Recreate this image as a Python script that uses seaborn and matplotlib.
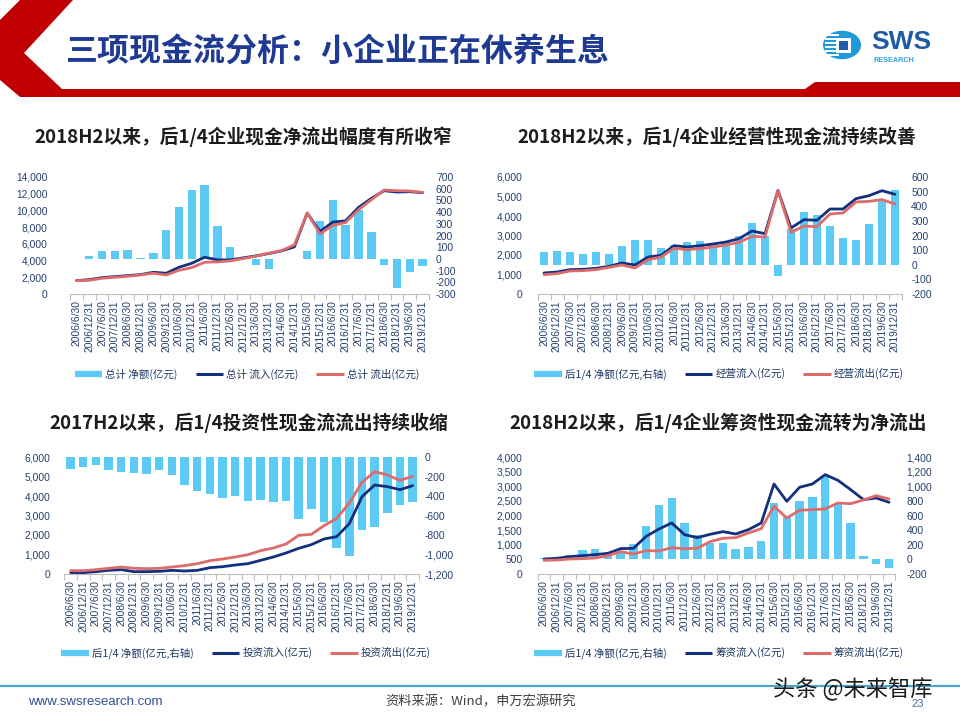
import numpy as np
import matplotlib
matplotlib.use("Agg")
import matplotlib.pyplot as plt
import seaborn as sns
from matplotlib.patches import Polygon, Circle, Rectangle
from matplotlib.lines import Line2D
from matplotlib.ticker import FuncFormatter, FixedLocator

sns.set_style("white")
plt.rcParams['font.family'] = ['Noto Sans CJK SC', 'DejaVu Sans']
plt.rcParams['axes.unicode_minus'] = False

# ---------------- data ----------------
dates = []
for yr in range(2006, 2020):
    dates += [f"{yr}/6/30", f"{yr}/12/31"]

# chart 1: total
total_net = [2, 28, 71, 71, 77, 11, 54, 251, 446, 586, 634, 283, 100, 0,
             -49, -89, -2, 2, 71, 320, 500, 286, 420, 234, -49, -246, -109, -57]
total_in = [1600, 1720, 1960, 2080, 2200, 2320, 2600, 2480, 3200, 3680, 4400, 4080, 4080, 4320,
            4560, 4840, 5160, 5640, 9680, 7480, 8600, 8760, 10360, 11440, 12360, 12200, 12240, 12120]
total_out = [1600, 1640, 1880, 2000, 2120, 2280, 2480, 2280, 2840, 3160, 3800, 3840, 3960, 4240,
             4520, 4880, 5200, 5880, 9680, 7200, 8200, 8560, 10080, 11280, 12440, 12360, 12320, 12160]

# chart 2: operating
op_net = [84, 93, 89, 75, 84, 75, 130, 166, 171, 116, 135, 157, 164, 150,
          160, 198, 285, 194, -80, 245, 358, 340, 262, 185, 166, 276, 440, 512]
op_in = [1077, 1128, 1248, 1265, 1316, 1419, 1590, 1487, 1897, 1983, 2479, 2410, 2479, 2564,
         2667, 2838, 3231, 3094, 5316, 3385, 3812, 3778, 4359, 4359, 4889, 5043, 5299, 5111]
op_out = [991, 1043, 1180, 1197, 1248, 1368, 1487, 1333, 1761, 1897, 2342, 2274, 2325, 2410,
          2513, 2650, 2957, 2923, 5316, 3162, 3487, 3453, 4103, 4154, 4718, 4752, 4838, 4615]

# chart 3: investing
inv_net = [-123, -103, -85, -130, -150, -168, -178, -137, -188, -287, -352, -383, -420, -400,
           -455, -444, -465, -455, -632, -530, -670, -933, -1012, -745, -721, -574, -496, -458]
inv_in = [68, 68, 120, 188, 222, 120, 120, 137, 188, 154, 188, 325, 376, 462,
          530, 701, 872, 1077, 1316, 1504, 1795, 1915, 2581, 3966, 4564, 4479, 4325, 4530]
inv_out = [171, 171, 222, 291, 359, 291, 274, 291, 359, 427, 530, 684, 769, 872,
           991, 1197, 1333, 1538, 1983, 2034, 2479, 2855, 3641, 4701, 5248, 5077, 4803, 5009]

# chart 4: financing
fin_net = [14, 32, 64, 123, 141, 58, 100, 210, 456, 748, 843, 501, 337, 223,
           228, 141, 169, 251, 775, 574, 793, 857, 1135, 766, 497, 41, -59, -114]
fin_in = [513, 536, 593, 627, 661, 707, 866, 878, 1288, 1539, 1744, 1345, 1243, 1357,
          1448, 1368, 1516, 1744, 3077, 2485, 2964, 3077, 3397, 3203, 2884, 2542, 2599, 2451]
fin_out = [467, 479, 513, 524, 547, 627, 764, 684, 798, 787, 901, 866, 878, 1106,
           1220, 1243, 1402, 1550, 2314, 1915, 2177, 2200, 2223, 2428, 2405, 2531, 2679, 2565]

titles = ["2018H2以来，后1/4企业现金净流出幅度有所收窄",
          "2018H2以来，后1/4企业经营性现金流持续改善",
          "2017H2以来，后1/4投资性现金流流出持续收缩",
          "2018H2以来，后1/4企业筹资性现金流转为净流出"]
legend_labels = [["总计 净额(亿元)", "总计 流入(亿元)", "总计 流出(亿元)"],
                 ["后1/4 净额(亿元,右轴)", "经营流入(亿元)", "经营流出(亿元)"],
                 ["后1/4 净额(亿元,右轴)", "投资流入(亿元)", "投资流出(亿元)"],
                 ["后1/4 净额(亿元,右轴)", "筹资流入(亿元)", "筹资流出(亿元)"]]

# ---------------- styles ----------------
W, H = 960, 720
BAR = "#5BCBF5"
NAVY = "#13307E"
RED = "#DE6B6B"
TICK = "#25406F"
TXT = "#1F3864"
NUMFONT = ["Liberation Sans", "DejaVu Sans"]

fig = plt.figure(figsize=(W / 100, H / 100), dpi=100)
fig.patch.set_facecolor("white")


def fx(x):
    return x / W


def fy(y):
    return 1 - y / H


def rect(x0, x1, yt, yb):
    return [fx(x0), fy(yb), (x1 - x0) / W, (yb - yt) / H]


# ---------------- header ----------------
red = "#C00000"
chev = [(20, 0), (73, 0), (24, 53), (62, 89), (805, 89), (815, 82), (960, 82),
        (960, 97), (20, 97), (0, 80), (0, 20)]
fig.patches.append(Polygon([(fx(a), fy(b)) for a, b in chev], closed=True,
                           transform=fig.transFigure, facecolor=red, edgecolor="none"))
fig.text(fx(66), fy(53), "三项现金流分析：小企业正在休养生息", ha="left", va="center",
         fontsize=23, fontweight="bold", color="#1F3A93")

# logo
cx, cy, r = 842, 45, 19
fig.patches.append(Circle((fx(cx), fy(cy)), r / W, transform=fig.transFigure,
                          facecolor="#1C9BD8", edgecolor="none"))
for yy in range(34, 58, 4):
    fig.patches.append(Rectangle((fx(825), fy(yy + 1.5)), 14 / W, 1.5 / H,
                                 transform=fig.transFigure, facecolor="white", edgecolor="none"))
fig.patches.append(Rectangle((fx(836), fy(53)), 15 / W, 15 / H, transform=fig.transFigure,
                             facecolor="white", edgecolor="none"))
fig.patches.append(Rectangle((fx(839), fy(50)), 9 / W, 9 / H, transform=fig.transFigure,
                             facecolor="#1E5DAA", edgecolor="none"))
fig.text(fx(871), fy(42), "SWS", ha="left", va="center", fontsize=19, fontweight="bold",
         color="#1F5AA6", family=["Liberation Sans", "DejaVu Sans"])
fig.text(fx(873), fy(61), "RESEARCH", ha="left", va="center", fontsize=5.2, fontweight="bold",
         color="#2AA3DE", family=["Liberation Sans", "DejaVu Sans"])

# ---------------- charts ----------------
charts = [
    dict(net=total_net, inn=total_in, out=total_out, box=(70, 429, 177, 294),
         lt=np.arange(0, 14001, 2000), rt=np.arange(-300, 701, 100),
         title_xy=(243, 137), leg_xy=(247, 374), lpad=16, rpad=5),
    dict(net=op_net, inn=op_in, out=op_out, box=(537.5, 901.5, 177, 294),
         lt=np.arange(0, 6001, 1000), rt=np.arange(-200, 601, 100),
         title_xy=(717, 137), leg_xy=(719, 374), lpad=11, rpad=7),
    dict(net=inv_net, inn=inv_in, out=inv_out, box=(64.3, 419, 457, 574),
         lt=np.arange(0, 6001, 1000), rt=np.arange(-1200, 1, 200),
         title_xy=(249, 423), leg_xy=(246, 653), lpad=10, rpad=4),
    dict(net=fin_net, inn=fin_in, out=fin_out, box=(537.6, 895.4, 457, 574),
         lt=np.arange(0, 4001, 500), rt=np.arange(-200, 1401, 200),
         title_xy=(718, 423), leg_xy=(719, 653), lpad=11, rpad=8),
]

fmt = FuncFormatter(lambda v, p: f"{int(round(v)):,}")
xs = np.arange(len(dates))

for i, c in enumerate(charts):
    axL = fig.add_axes(rect(*c["box"]))
    axR = axL.twinx()
    sns.barplot(x=xs, y=c["net"], ax=axR, native_scale=True, color=BAR, width=0.66,
                saturation=1, linewidth=0, edgecolor="none")
    sns.lineplot(x=xs, y=c["inn"], ax=axL, color=NAVY, linewidth=2.0, sort=False)
    sns.lineplot(x=xs, y=c["out"], ax=axL, color=RED, linewidth=2.0, sort=False)
    axL.set_zorder(2)
    axR.set_zorder(1)
    axL.patch.set_visible(False)

    axL.set_xlim(-0.5, len(dates) - 0.5)
    axL.set_ylim(c["lt"][0], c["lt"][-1])
    axR.set_ylim(c["rt"][0], c["rt"][-1])
    axL.yaxis.set_major_locator(FixedLocator(c["lt"]))
    axR.yaxis.set_major_locator(FixedLocator(c["rt"]))
    axL.yaxis.set_major_formatter(fmt)
    axR.yaxis.set_major_formatter(fmt)

    axL.set_xticks(xs)
    axL.set_xticklabels(dates, rotation=90, fontsize=7.4, color=TICK, family=NUMFONT)
    axL.set_xticks(np.arange(-0.5, len(dates), 1), minor=True)
    axL.tick_params(axis="x", which="major", length=0, pad=4.5)
    axL.tick_params(axis="x", which="minor", length=4, width=0.8, color="#BFBFBF",
                    direction="out", bottom=True)
    for ax in (axL, axR):
        ax.tick_params(axis="y", length=0, labelsize=7.4, labelcolor=TICK)
        for lab in ax.get_yticklabels():
            lab.set_family(NUMFONT)
        for s in ax.spines.values():
            s.set_visible(False)
        ax.set_xlabel("")
        ax.set_ylabel("")
        ax.grid(False)
    axL.tick_params(axis="y", pad=c["lpad"])
    axR.tick_params(axis="y", pad=c["rpad"])
    axL.spines["bottom"].set_visible(True)
    axL.spines["bottom"].set_color("#BFBFBF")
    axL.spines["bottom"].set_linewidth(0.8)

    tx, ty = c["title_xy"]
    fig.text(fx(tx), fy(ty), titles[i], ha="center", va="center", fontsize=13.5,
             fontweight="bold", color="#1C1C1C")

    handles = [Line2D([], [], color=BAR, linewidth=4.5, solid_capstyle="butt"),
               Line2D([], [], color=NAVY, linewidth=2.2, solid_capstyle="butt"),
               Line2D([], [], color=RED, linewidth=2.2, solid_capstyle="butt")]
    lx, ly = c["leg_xy"]
    axL.legend(handles, legend_labels[i], loc="center", bbox_to_anchor=(fx(lx), fy(ly)),
               bbox_transform=fig.transFigure, ncol=3, frameon=False, fontsize=7.6,
               handlelength=2.6, handletextpad=0.3, columnspacing=1.7, labelcolor=TXT,
               borderpad=0, borderaxespad=0)

# ---------------- footer ----------------
fig.add_artist(Line2D([0, 1], [fy(686), fy(686)], transform=fig.transFigure,
                      color="#4AA6CF", linewidth=1.6))
fig.text(fx(28), fy(702), "www.swsresearch.com", ha="left", va="center", fontsize=9.5,
         color="#2F4F8F", family=["Liberation Sans", "DejaVu Sans"])
fig.text(fx(481), fy(702), "资料来源：Wind，申万宏源研究", ha="center", va="center",
         fontsize=9.5, color="#404040")
fig.text(fx(918), fy(704), "23", ha="center", va="center", fontsize=8, color="#4A6A9A",
         family=["Liberation Sans", "DejaVu Sans"])
fig.text(fx(853), fy(689), "头条 @未来智库", ha="center", va="center", fontsize=16,
         color="#1A1A1A")

fig.savefig("out.png", dpi=100, facecolor="white")
